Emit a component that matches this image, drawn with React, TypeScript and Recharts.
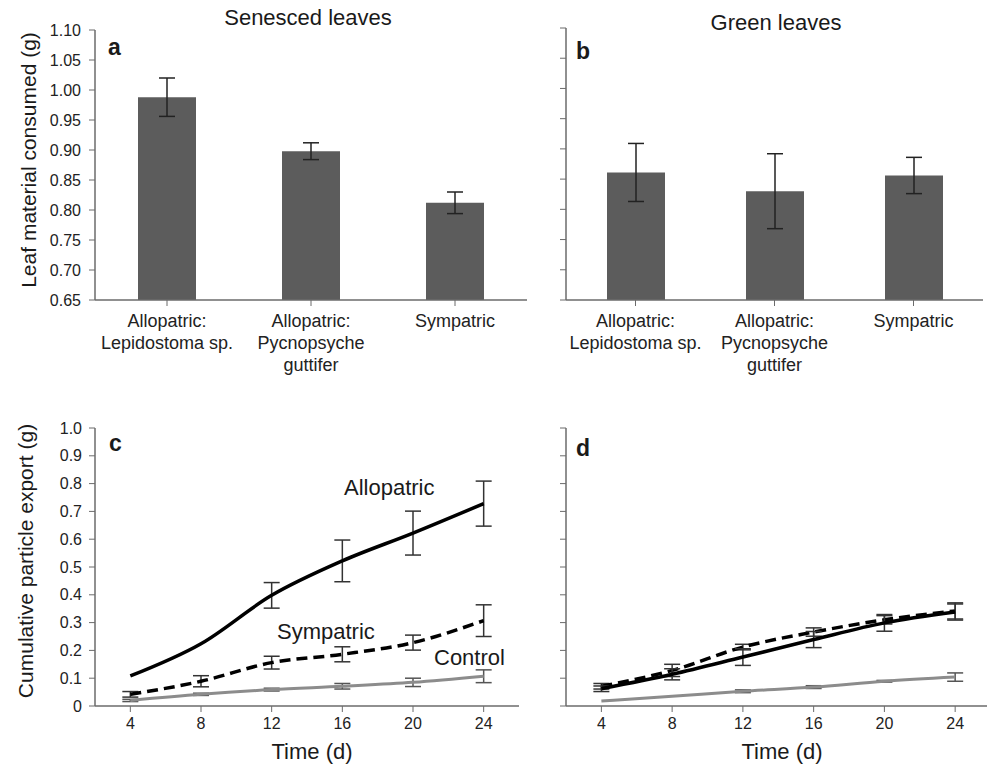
import React from "react";
import {
  BarChart,
  Bar,
  LineChart,
  Line,
  XAxis,
  YAxis,
  ErrorBar,
} from "recharts";

// panels a/b: leaf material consumed
const barCategories = [
  "Allopatric:\nLepidostoma sp.",
  "Allopatric:\nPycnopsyche\nguttifer",
  "Sympatric",
];
const senescedMean = [0.988, 0.898, 0.812];
const senescedErr = [0.032, 0.014, 0.018];
const greenMean = [0.861, 0.83, 0.856];
const greenErr = [0.048, 0.062, 0.03];
const barTicks = [0.65, 0.7, 0.75, 0.8, 0.85, 0.9, 0.95, 1.0, 1.05, 1.1];

// panels c/d: cumulative particle export
const days = [4, 8, 12, 16, 20, 24];
const senAllo = [0.108, 0.224, 0.398, 0.522, 0.622, 0.728];
const senAlloErr = [0, 0, 0.046, 0.075, 0.079, 0.081];
const senSym = [0.042, 0.089, 0.156, 0.186, 0.228, 0.307];
const senSymErr = [0.01, 0.02, 0.023, 0.027, 0.027, 0.057];
const senCtrl = [0.02, 0.042, 0.059, 0.071, 0.085, 0.107];
const senCtrlErr = [0.004, 0.004, 0.005, 0.01, 0.015, 0.023];
const grnAllo = [0.062, 0.114, 0.176, 0.239, 0.299, 0.338];
const grnAlloErr = [0.01, 0.02, 0.03, 0.029, 0.03, 0.029];
const grnSym = [0.071, 0.128, 0.212, 0.266, 0.31, 0.342];
const grnSymErr = [0.01, 0.022, 0.01, 0.015, 0.015, 0.029];
const grnCtrl = [0.018, 0.035, 0.053, 0.068, 0.089, 0.104];
const grnCtrlErr = [0, 0, 0.005, 0.005, 0.003, 0.015];
const exportTicks = [0, 0.1, 0.2, 0.3, 0.4, 0.5, 0.6, 0.7, 0.8, 0.9, 1.0];

const FONT = "'Liberation Sans', Arial, sans-serif";
const AXIS = "#6b6b6b";
const BAR = "#5c5c5c";

const barData = (means: number[], errs: number[]) =>
  barCategories.map((c, i) => ({ name: c, value: means[i], err: errs[i] }));

const lineData = (
  a: number[], ae: number[], s: number[], se: number[], c: number[], ce: number[]
) =>
  days.map((d, i) => ({
    day: d,
    allo: a[i], alloErr: ae[i],
    sym: s[i], symErr: se[i],
    ctrl: c[i], ctrlErr: ce[i],
  }));

const CatTick = (props: any) => {
  const { x, y, payload } = props;
  const lines = String(payload.value).split("\n");
  return (
    <text x={x} y={y} textAnchor="middle" fontSize={18} fill="#222" fontFamily={FONT}>
      {lines.map((l, i) => (
        <tspan key={i} x={x} dy={i === 0 ? 19 : 22}>
          {l}
        </tspan>
      ))}
    </text>
  );
};

const abs = (left: number, top: number): React.CSSProperties => ({
  position: "absolute",
  left,
  top,
});

const Txt = ({
  left, top, size, bold, children, center,
}: {
  left: number; top: number; size: number; bold?: boolean; children: React.ReactNode; center?: boolean;
}) => (
  <div
    style={{
      ...abs(left, top),
      fontSize: size,
      fontWeight: bold ? "bold" : "normal",
      lineHeight: 1,
      whiteSpace: "nowrap",
      color: "#1a1a1a",
      transform: center ? "translateX(-50%)" : undefined,
    }}
  >
    {children}
  </div>
);

const VTxt = ({ cx, cy, size, children }: { cx: number; cy: number; size: number; children: React.ReactNode }) => (
  <div
    style={{
      ...abs(cx, cy),
      fontSize: size,
      lineHeight: 1,
      whiteSpace: "nowrap",
      color: "#1a1a1a",
      transform: "translate(-50%, -50%) rotate(-90deg)",
    }}
  >
    {children}
  </div>
);

const BarPanel = ({ data, showLabels }: { data: any[]; showLabels: boolean }) => (
  <BarChart
    width={showLabels ? 540 : 447}
    height={380}
    data={data}
    margin={showLabels ? { top: 30, right: 13, bottom: 20, left: 35 } : { top: 28, right: 4, bottom: 20, left: 6 }}
    barSize={58}
  >
    <XAxis
      dataKey="name"
      height={60}
      interval={0}
      tick={<CatTick />}
      tickSize={6}
      stroke={AXIS}
      axisLine={{ stroke: AXIS, strokeWidth: 1.5 }}
    />
    <YAxis
      width={showLabels ? 60 : 20}
      domain={[0.65, 1.1]}
      ticks={barTicks}
      allowDataOverflow
      tickSize={6}
      tickMargin={8}
      stroke={AXIS}
      axisLine={{ stroke: AXIS, strokeWidth: 1.5 }}
      tick={{ fontSize: 16, fill: "#222", fontFamily: FONT }}
      tickFormatter={(v: number) => (showLabels ? v.toFixed(2) : "")}
    />
    <Bar dataKey="value" fill={BAR} isAnimationActive={false}>
      <ErrorBar dataKey="err" width={8} strokeWidth={1.5} stroke="#222" direction="y" />
    </Bar>
  </BarChart>
);

const LinePanel = ({ data, showLabels }: { data: any[]; showLabels: boolean }) => (
  <LineChart
    width={showLabels ? 540 : 447}
    height={366}
    data={data}
    margin={showLabels ? { top: 28, right: 21, bottom: 30, left: 35 } : { top: 28, right: 0, bottom: 30, left: 6 }}
  >
    <XAxis
      dataKey="day"
      type="number"
      domain={showLabels ? [2, 26] : [2, 25.8]}
      ticks={days}
      allowDataOverflow
      height={30}
      tickSize={6}
      tickMargin={6}
      stroke={AXIS}
      axisLine={{ stroke: AXIS, strokeWidth: 1.5 }}
      tick={{ fontSize: 16, fill: "#222", fontFamily: FONT }}
    />
    <YAxis
      width={showLabels ? 60 : 20}
      domain={[0, 1]}
      ticks={exportTicks}
      allowDataOverflow
      tickSize={6}
      tickMargin={7}
      stroke={AXIS}
      axisLine={{ stroke: AXIS, strokeWidth: 1.5 }}
      tick={{ fontSize: 16, fill: "#222", fontFamily: FONT }}
      tickFormatter={(v: number) => (showLabels ? (v === 0 ? "0" : v.toFixed(1)) : "")}
    />
    <Line
      dataKey="ctrl"
      type="monotone"
      stroke="#8c8c8c"
      strokeWidth={3}
      dot={false}
      isAnimationActive={false}
    >
      <ErrorBar dataKey="ctrlErr" width={8} strokeWidth={1.5} stroke="#555" direction="y" />
    </Line>
    <Line
      dataKey="sym"
      type="monotone"
      stroke="#000"
      strokeWidth={3.5}
      strokeDasharray="11 6"
      dot={false}
      isAnimationActive={false}
    >
      <ErrorBar dataKey="symErr" width={8} strokeWidth={1.5} stroke="#333" direction="y" />
    </Line>
    <Line
      dataKey="allo"
      type="monotone"
      stroke="#000"
      strokeWidth={3.5}
      dot={false}
      isAnimationActive={false}
    >
      <ErrorBar dataKey="alloErr" width={8} strokeWidth={1.5} stroke="#333" direction="y" />
    </Line>
  </LineChart>
);

export default function App() {
  return (
    <div
      style={{
        position: "absolute",
        left: 0,
        top: 0,
        width: 987,
        height: 766,
        background: "#fff",
        fontFamily: FONT,
        overflow: "hidden",
      }}
    >
      <div style={abs(0, 0)}>
        <BarPanel data={barData(senescedMean, senescedErr)} showLabels />
      </div>
      <div style={abs(540, 0)}>
        <BarPanel data={barData(greenMean, greenErr)} showLabels={false} />
      </div>
      <div style={abs(0, 400)}>
        <LinePanel data={lineData(senAllo, senAlloErr, senSym, senSymErr, senCtrl, senCtrlErr)} showLabels />
      </div>
      <div style={abs(540, 400)}>
        <LinePanel data={lineData(grnAllo, grnAlloErr, grnSym, grnSymErr, grnCtrl, grnCtrlErr)} showLabels={false} />
      </div>

      <Txt left={308} top={7} size={22} center>Senesced leaves</Txt>
      <Txt left={776} top={12} size={22} center>Green leaves</Txt>
      <Txt left={108} top={36} size={23} bold>a</Txt>
      <Txt left={576} top={40} size={23} bold>b</Txt>
      <Txt left={109} top={432} size={23} bold>c</Txt>
      <Txt left={576} top={437} size={23} bold>d</Txt>

      <VTxt cx={28} cy={160} size={21}>Leaf material consumed (g)</VTxt>
      <VTxt cx={25} cy={561} size={21}>Cumulative particle export (g)</VTxt>
      <Txt left={312} top={741} size={22} center>Time (d)</Txt>
      <Txt left={782} top={741} size={22} center>Time (d)</Txt>

      <Txt left={344} top={477} size={22}>Allopatric</Txt>
      <Txt left={277} top={621} size={22}>Sympatric</Txt>
      <Txt left={434} top={647} size={22}>Control</Txt>
    </div>
  );
}
